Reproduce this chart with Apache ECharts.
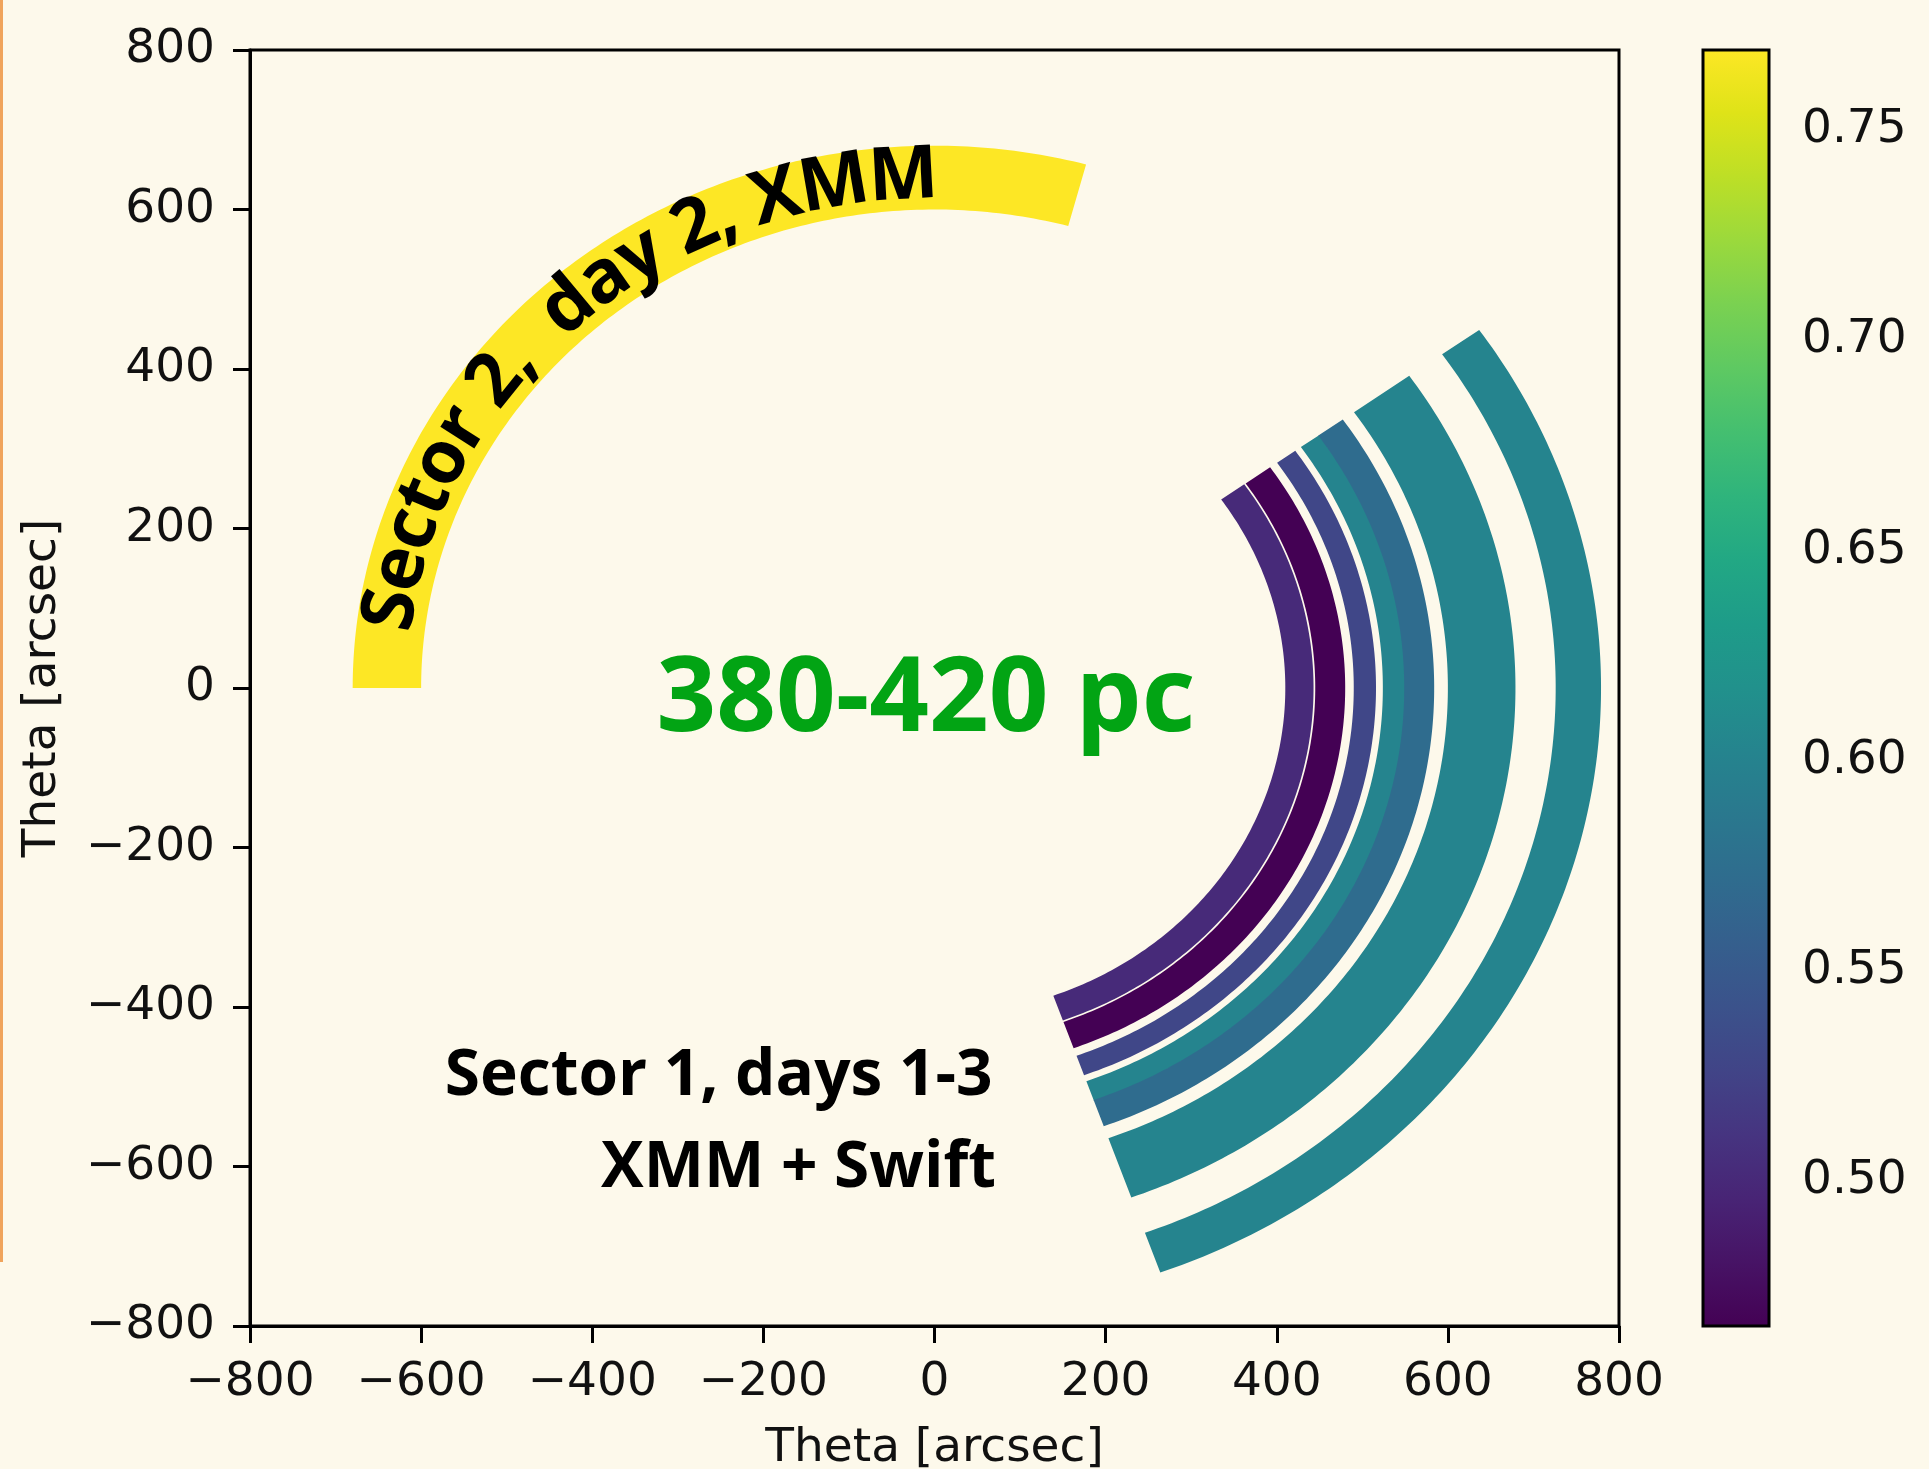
<!DOCTYPE html>
<html><head><meta charset="utf-8">
<script src="https://cdn.jsdelivr.net/npm/echarts@6/dist/echarts.min.js"></script>
<style>html,body{margin:0;padding:0;background:#fdf9eb;}#c{width:1929px;height:1469px;}</style>
</head><body><div id="c"></div>
<script>
// ---------------- data ----------------
const axisMin = -800, axisMax = 800, axisStep = 200;
const bandInnerRadius = [410, 445, 490, 524, 549, 600, 726, 600];
const bandOuterRadius = [443, 480, 516, 550, 584, 679, 779, 680];
const bandStartAngle  = [-70.2, -70.2, -70.2, -70.2, -70.2, -70.2, -70.2, 74.9];
const bandEndAngle    = [35.2, 35.2, 35.2, 35.2, 35.2, 35.2, 35.2, 180];
const bandValue       = [0.502, 0.4655, 0.529, 0.602, 0.572, 0.602, 0.602, 0.769];
const colorbarMin = 0.4655, colorbarMax = 0.769;
const colorbarTicks = [0.50, 0.55, 0.60, 0.65, 0.70, 0.75];
const axisTitle = 'Theta [arcsec]';
const centerLabel = '380-420 pc';
const centerLabelPos = [-10, -16];
const sector1Lines = ['Sector 1, days 1-3', 'XMM + Swift'];
const sector1LinePos = [[68, -488], [72, -603]];
const arcLabel = 'Sector 2,  day 2, XMM';
const arcLabelRadius = 641, arcLabelStartAngle = 173.5, arcLabelEndAngle = 89.6;

// viridis colour ramp (styling)
const viridis = ['#440154','#471365','#482475','#463480','#414487','#3b528b','#355f8d','#2f6c8e','#2a788e','#25848e','#21918c','#1e9c89','#22a884','#2fb47c','#44bf70','#5ec962','#7ad151','#9bd93c','#bddf26','#dfe318','#fde725'];

const bandData = bandInnerRadius.map((r, i) => [r, bandOuterRadius[i], bandStartAngle[i], bandEndAngle[i], bandValue[i]]);

const tickFont = { fontFamily: 'DejaVu Sans', fontSize: 47, color: '#111' };
const minusFmt = v => (v < 0 ? '\u2212' : '') + Math.abs(v);

const chart = echarts.init(document.getElementById('c'), null, { renderer: 'canvas' });
const option = {
  backgroundColor: '#fdf9eb',
  animation: false,
  grid: [
    { left: 250, top: 50, width: 1369, height: 1276, outerBoundsMode: 'none', containLabel: false,
      show: true, borderColor: '#000', borderWidth: 3, backgroundColor: 'transparent' },
    { left: 1703, top: 50, width: 66, height: 1276, outerBoundsMode: 'none', containLabel: false, show: false }
  ],
  xAxis: [
    { gridIndex: 0, type: 'value', min: axisMin, max: axisMax, interval: axisStep,
      name: axisTitle, nameLocation: 'middle', nameGap: 99, nameTextStyle: tickFont,
      axisLine: { show: true, onZero: false, lineStyle: { color: '#000', width: 3 } },
      axisTick: { show: true, inside: false, length: 17, lineStyle: { color: '#000', width: 3 } },
      axisLabel: Object.assign({ margin: 33, formatter: minusFmt }, tickFont),
      splitLine: { show: false } },
    { gridIndex: 1, type: 'value', min: 0, max: 1, show: false }
  ],
  yAxis: [
    { gridIndex: 0, type: 'value', min: axisMin, max: axisMax, interval: axisStep,
      name: axisTitle, nameLocation: 'middle', nameGap: 184, nameTextStyle: tickFont,
      axisLine: { show: true, onZero: false, lineStyle: { color: '#000', width: 3 } },
      axisTick: { show: true, inside: false, length: 17, lineStyle: { color: '#000', width: 3 } },
      axisLabel: Object.assign({ margin: 35, padding: [10, 0, 0, 0], formatter: minusFmt }, tickFont),
      splitLine: { show: false } },
    { gridIndex: 1, type: 'value', min: colorbarMin, max: colorbarMax, position: 'right',
      axisLine: { show: false },
      axisTick: { show: true, customValues: colorbarTicks, length: 16, lineStyle: { color: '#000', width: 3 } },
      axisLabel: Object.assign({ customValues: colorbarTicks, margin: 33, padding: [13, 0, 0, 0], formatter: v => v.toFixed(2) }, tickFont),
      splitLine: { show: false } }
  ],
  visualMap: {
    type: 'continuous', show: false, seriesIndex: 0, dimension: 4,
    min: colorbarMin, max: colorbarMax, inRange: { color: viridis }
  },
  series: [
    { type: 'custom', xAxisIndex: 0, yAxisIndex: 0, data: bandData, z: 2,
      renderItem: function (params, api) {
        const rIn = api.value(0), rOut = api.value(1), a0 = api.value(2), a1 = api.value(3);
        const N = 160, pts = [];
        for (let i = 0; i <= N; i++) {
          const a = (a0 + (a1 - a0) * i / N) * Math.PI / 180;
          pts.push(api.coord([rOut * Math.cos(a), rOut * Math.sin(a)]));
        }
        for (let i = N; i >= 0; i--) {
          const a = (a0 + (a1 - a0) * i / N) * Math.PI / 180;
          pts.push(api.coord([rIn * Math.cos(a), rIn * Math.sin(a)]));
        }
        return { type: 'polygon', shape: { points: pts }, style: { fill: api.visual('color') } };
      } },
    { type: 'custom', xAxisIndex: 1, yAxisIndex: 1, data: [[0, colorbarMin, 1, colorbarMax]],
      renderItem: function (params, api) {
        const p0 = api.coord([api.value(0), api.value(3)]);
        const p1 = api.coord([api.value(2), api.value(1)]);
        return { type: 'rect', shape: { x: p0[0], y: p0[1], width: p1[0] - p0[0], height: p1[1] - p0[1] },
          style: { fill: { type: 'linear', x: 0, y: 1, x2: 0, y2: 0,
                   colorStops: viridis.map((c, i) => ({ offset: i / (viridis.length - 1), color: c })) },
                   stroke: '#000', lineWidth: 3 } };
      } }
  ]
};
chart.setOption(option);

// ---------------- annotations ----------------
const ctx = document.createElement('canvas').getContext('2d');
const annFamily = '"Open Sans"';
function measure(text, size) { ctx.font = '700 ' + size + 'px ' + annFamily; return ctx.measureText(text).width; }
const toPx = (x, y) => chart.convertToPixel({ gridIndex: 0 }, [x, y]);
const els = [];
function textEl(str, x, y, size, fill, align, rot) {
  return { type: 'text', x: x, y: y, rotation: rot || 0, z: 100, silent: true,
    style: { text: str, font: '700 ' + size + 'px ' + annFamily, fill: fill,
             align: align, verticalAlign: 'middle', textAlign: align, textVerticalAlign: 'middle' } };
}
// center label
{
  const p = toPx(centerLabelPos[0], centerLabelPos[1]);
  const size = 100 * 539 / measure(centerLabel, 100);
  els.push(textEl(centerLabel, p[0], p[1], size, '#02a414', 'center'));
}
// sector 1 label
{
  const size = 100 * 548 / measure(sector1Lines[0], 100);
  sector1Lines.forEach((s, i) => {
    const p = toPx(sector1LinePos[i][0], sector1LinePos[i][1]);
    els.push(textEl(s, p[0], p[1], size, '#000', 'right'));
  });
}
// curved label along the yellow arc
{
  const samples = [];
  let s = 0, prev = null;
  for (let a = 185; a >= 70; a -= 0.05) {
    const r = a * Math.PI / 180;
    const p = toPx(arcLabelRadius * Math.cos(r), arcLabelRadius * Math.sin(r));
    if (prev) s += Math.hypot(p[0] - prev[0], p[1] - prev[1]);
    samples.push({ a: a, s: s, p: p });
    prev = p;
  }
  const sAt = ang => { let best = samples[0]; for (const q of samples) if (Math.abs(q.a - ang) < Math.abs(best.a - ang)) best = q; return best.s; };
  const s0 = sAt(arcLabelStartAngle), s1 = sAt(arcLabelEndAngle);
  const size = 100 * (s1 - s0) / measure(arcLabel, 100);
  const pointAt = sv => {
    for (let i = 1; i < samples.length; i++) {
      if (samples[i].s >= sv) {
        const A = samples[i - 1], B = samples[i];
        const t = (sv - A.s) / Math.max(1e-9, B.s - A.s);
        return { x: A.p[0] + (B.p[0] - A.p[0]) * t, y: A.p[1] + (B.p[1] - A.p[1]) * t,
                 rot: Math.atan2(-(B.p[1] - A.p[1]), B.p[0] - A.p[0]) };
      }
    }
    return null;
  };
  let acc = 0;
  for (const ch of arcLabel) {
    const w = measure(ch, size);
    const q = pointAt(s0 + acc + w / 2);
    if (q && ch !== ' ') els.push(textEl(ch, q.x, q.y, size, '#000', 'center', q.rot));
    acc += w;
  }
}
// page edge line (orange) at left
els.push({ type: 'line', z: 100, silent: true, shape: { x1: 1.5, y1: 0, x2: 1.5, y2: 1262 }, style: { stroke: '#f0a45c', lineWidth: 3 } });
chart.setOption({ graphic: { elements: els } });
</script>
</body></html>
